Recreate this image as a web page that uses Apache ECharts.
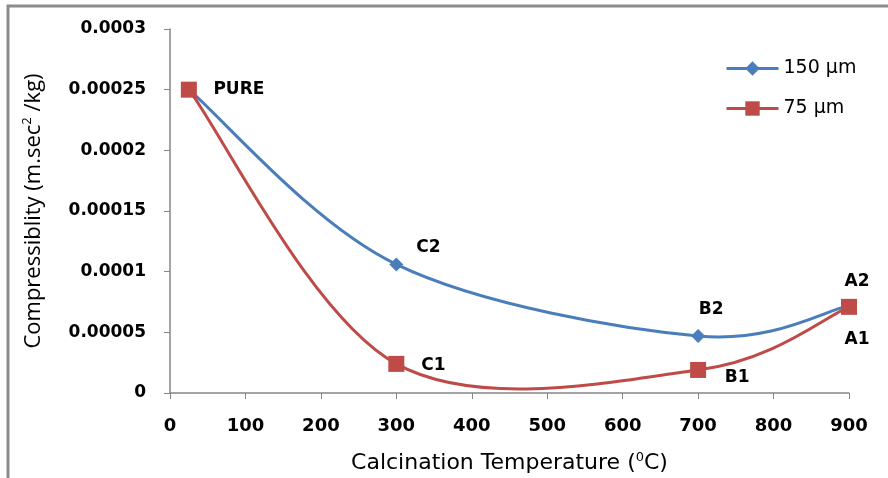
<!DOCTYPE html>
<html>
<head>
<meta charset="utf-8">
<script src="https://cdn.jsdelivr.net/npm/echarts@6/dist/echarts.min.js"></script>
<style>
  html, body { margin: 0; padding: 0; background: #ffffff; }
  #chart { width: 888px; height: 478px; }
</style>
</head>
<body>
<div id="chart"></div>
<script>
const temperatures = [25, 300, 700, 900]
const series150 = [0.00025, 0.000106, 0.000047, 0.000072]
const series75 = [0.00025, 0.000024, 0.000019, 0.000071]
const labels150 = ['', 'C2', 'B2', 'A2']
const labels75 = ['PURE', 'C1', 'B1', 'A1']
const yTickLabels = ['0', '0.00005', '0.0001', '0.00015', '0.0002', '0.00025', '0.0003']
const xTickLabels = ['0', '100', '200', '300', '400', '500', '600', '700', '800', '900']

const axisGrey = '#868686'
const blue = '#4a7ebb'
const red = '#be4b48'
const boldFont = '"DejaVu Sans", sans-serif'
const titleFont = '"Open Sans", "Noto Sans", sans-serif'

// label offsets (px) for each point, same order as the data
const place150 = [null, [32, -17], [13, -26], [8, -24]]
const place75 = [[50, 0], [37, 2], [39, 8], [8, 33]]

const buildData = (values, names, offsets) => values.map((v, i) => ({
  value: [temperatures[i], v],
  label: {
    show: !!names[i],
    formatter: names[i],
    position: 'inside',
    offset: offsets[i] || [0, 0],
    color: '#000',
    fontFamily: boldFont,
    fontWeight: 'bold',
    fontSize: 17
  }
}))

// spreadsheet-style smooth curve: one bezier per segment, control points from neighbours
const curveSeries = (values, color) => ({
  type: 'custom',
  silent: true,
  z: 1,
  data: values.map((v, i) => [temperatures[i], v]),
  encode: { x: 0, y: 1 },
  renderItem(params, api) {
    const i = params.dataIndex
    if (i >= values.length - 1) {
      return null
    }
    const pts = values.map((v, k) => api.coord([temperatures[k], v]))
    const p = (k) => pts[Math.max(0, Math.min(pts.length - 1, k))]
    const a = p(i)
    const b = p(i + 1)
    const prev = p(i - 1)
    const next = p(i + 2)
    return {
      type: 'bezierCurve',
      shape: {
        x1: a[0], y1: a[1],
        x2: b[0], y2: b[1],
        cpx1: a[0] + (b[0] - prev[0]) / 6,
        cpy1: a[1] + (b[1] - prev[1]) / 6,
        cpx2: b[0] - (next[0] - a[0]) / 6,
        cpy2: b[1] - (next[1] - a[1]) / 6
      },
      style: { stroke: color, lineWidth: 3, fill: null }
    }
  }
})

const chart = echarts.init(document.getElementById('chart'))

chart.setOption({
  animation: false,
  grid: { left: 170, right: 39, top: 29, bottom: 85, outerBoundsMode: 'none', containLabel: false },
  graphic: [
    {
      type: 'polyline',
      shape: { points: [[8, 478], [8, 6], [888, 6]] },
      style: { stroke: '#8c8c8c', lineWidth: 3, fill: null }
    }
  ],
  legend: {
    orient: 'vertical',
    left: 720,
    top: 54,
    itemWidth: 52,
    itemHeight: 18,
    itemGap: 21,
    textStyle: { fontFamily: boldFont, fontSize: 19, color: '#000' },
    data: [
      { name: '150 µm', lineStyle: { color: blue, width: 3, opacity: 1 } },
      { name: '75 µm', lineStyle: { color: red, width: 3, opacity: 1 } }
    ]
  },
  xAxis: {
    type: 'value',
    min: 0,
    max: 900,
    interval: 100,
    name: '{t|Calcination Temperature (}{s|0}{t|C)}',
    nameLocation: 'middle',
    nameGap: 58,
    nameTextStyle: {
      rich: {
        t: { fontFamily: '"DejaVu Sans", sans-serif', fontSize: 22, color: '#000' },
        s: { fontFamily: '"DejaVu Sans", sans-serif', fontSize: 13, color: '#000', verticalAlign: 'top', padding: [0, 0, 12, 0] }
      }
    },
    axisLine: { lineStyle: { color: axisGrey, width: 1.5 } },
    axisTick: { show: true, length: 6, lineStyle: { color: axisGrey } },
    splitLine: { show: false },
    axisLabel: {
      margin: 24,
      color: '#000',
      fontFamily: boldFont,
      fontWeight: 'bold',
      fontSize: 18,
      formatter: (v) => xTickLabels[Math.round(v / 100)]
    }
  },
  yAxis: {
    type: 'value',
    min: 0,
    max: 0.0003,
    interval: 0.00005,
    name: '{t|Compressiblity (m.sec}{s|2}{t| /kg)}',
    nameLocation: 'middle',
    nameGap: 124,
    nameRotate: 90,
    nameTextStyle: {
      rich: {
        t: { fontFamily: titleFont, fontSize: 22, color: '#000' },
        s: { fontFamily: titleFont, fontSize: 13, color: '#000', verticalAlign: 'top', padding: [0, 0, 12, 0] }
      }
    },
    axisLine: { show: true, lineStyle: { color: axisGrey, width: 1.5 } },
    axisTick: { show: true, length: 6, lineStyle: { color: axisGrey } },
    splitLine: { show: false },
    axisLabel: {
      margin: 24,
      color: '#000',
      fontFamily: boldFont,
      fontWeight: 'bold',
      fontSize: 17,
      formatter: (v) => yTickLabels[Math.round(v / 0.00005)]
    }
  },
  series: [
    curveSeries(series150, blue),
    curveSeries(series75, red),
    {
      name: '150 µm',
      type: 'line',
      symbol: 'diamond',
      symbolSize: 14,
      itemStyle: { color: blue },
      lineStyle: { color: blue, width: 3, opacity: 0 },
      z: 2,
      data: buildData(series150, labels150, place150)
    },
    {
      name: '75 µm',
      type: 'line',
      symbol: 'rect',
      symbolSize: 16,
      itemStyle: { color: red },
      lineStyle: { color: red, width: 3, opacity: 0 },
      z: 3,
      data: buildData(series75, labels75, place75)
    }
  ]
})
</script>
</body>
</html>
